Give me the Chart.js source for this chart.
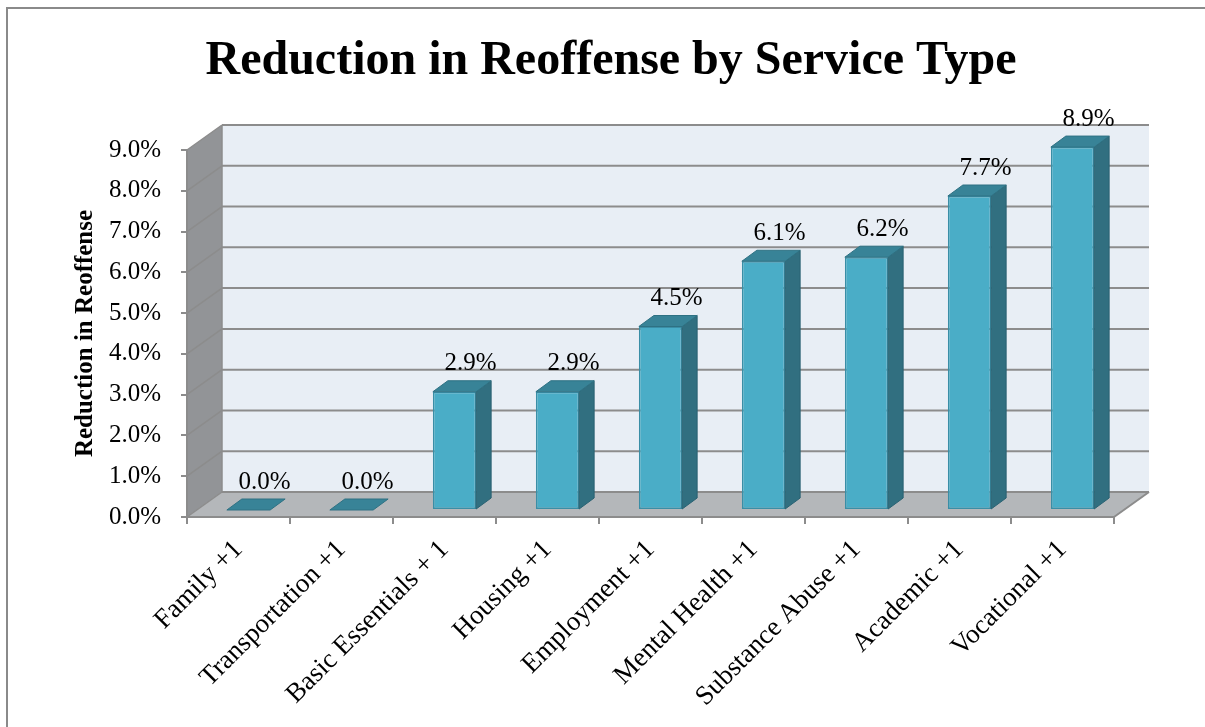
<!DOCTYPE html>
<html>
<head>
<meta charset="utf-8">
<script src="https://cdn.jsdelivr.net/npm/chart.js@4.4.1/dist/chart.umd.min.js"></script>
<style>
  html, body { margin: 0; padding: 0; background: #fff; overflow: hidden; }
  #wrap { position: relative; width: 1205px; height: 727px; }
  #frame { position: absolute; left: 6px; top: 7px; width: 1300px; height: 800px;
           border-left: 2px solid #8a8a8a; border-top: 2px solid #8a8a8a; }
  canvas { position: absolute; left: 0; top: 0; }
</style>
</head>
<body>
<div id="wrap">
  <div id="frame"></div>
  <canvas id="reoffChart" width="1205" height="727"></canvas>
</div>
<script>
// ── DATA ──
const categories = ['Family +1', 'Transportation +1', 'Basic Essentials + 1', 'Housing +1',
    'Employment +1', 'Mental Health +1', 'Substance Abuse +1', 'Academic +1', 'Vocational +1'];
const reductionPct = [0.0, 0.0, 2.9, 2.9, 4.5, 6.1, 6.2, 7.7, 8.9];
const yMax = 9;
const yStep = 1;

// 3D offsets (pixels)
const WALL = { dx: 35, dy: -25 };
const BAR_SHIFT = { dx: 10, dy: -7 };
const BAR_DEPTH = { dx: 15, dy: -11 };

Chart.defaults.font.family = "'Liberation Serif', 'Times New Roman', serif";
Chart.defaults.color = '#000';

function poly(ctx, pts, fill, stroke, lw) {
    ctx.beginPath();
    ctx.moveTo(pts[0][0], pts[0][1]);
    for (let i = 1; i < pts.length; i++) ctx.lineTo(pts[i][0], pts[i][1]);
    ctx.closePath();
    if (fill) { ctx.fillStyle = fill; ctx.fill(); }
    if (stroke) { ctx.strokeStyle = stroke; ctx.lineWidth = lw || 1; ctx.stroke(); }
}

function line(ctx, x1, y1, x2, y2, color, lw) {
    ctx.beginPath();
    ctx.moveTo(x1, y1);
    ctx.lineTo(x2, y2);
    ctx.strokeStyle = color;
    ctx.lineWidth = lw;
    ctx.stroke();
}

const threeD = {
    id: 'threeD',
    beforeDraw(chart) {
        const { ctx, chartArea: a, scales: { y } } = chart;
        const dx = WALL.dx, dy = WALL.dy;
        ctx.save();
        // side wall
        poly(ctx, [[a.left, a.bottom], [a.left, a.top], [a.left + dx, a.top + dy], [a.left + dx, a.bottom + dy]], '#929497');
        // back wall
        poly(ctx, [[a.left + dx, a.top + dy], [a.right + dx, a.top + dy], [a.right + dx, a.bottom + dy], [a.left + dx, a.bottom + dy]], '#e8eef5');
        // floor
        poly(ctx, [[a.left, a.bottom], [a.right, a.bottom], [a.right + dx, a.bottom + dy], [a.left + dx, a.bottom + dy]], '#b4b7ba');
        // gridlines on back + side wall
        y.ticks.forEach(t => {
            const py = y.getPixelForValue(t.value);
            line(ctx, a.left + dx, py + dy, a.right + dx, py + dy, '#8c8c8c', 2);
            line(ctx, a.left, py, a.left + dx, py + dy, '#8c8c8c', 1.5);
        });
        line(ctx, a.left + dx, a.top + dy, a.left + dx, a.bottom + dy, '#8c8c8c', 1.5);
        line(ctx, a.right, a.bottom, a.right + dx, a.bottom + dy, '#8c8c8c', 2);
        ctx.restore();
    },
    beforeDatasetsDraw(chart) {
        chart.ctx.save();
        chart.ctx.translate(BAR_SHIFT.dx, BAR_SHIFT.dy);
    },
    afterDatasetsDraw(chart) {
        const ctx = chart.ctx;
        ctx.restore();
        const bars = chart.getDatasetMeta(0).data;
        ctx.save();
        bars.forEach((bar, i) => {
            const l = bar.x - bar.width / 2 + BAR_SHIFT.dx;
            const r = bar.x + bar.width / 2 + BAR_SHIFT.dx;
            const t = bar.y + BAR_SHIFT.dy;
            const b = bar.base + BAR_SHIFT.dy;
            const ddx = BAR_DEPTH.dx, ddy = BAR_DEPTH.dy;
            if (b - t > 0.5) {
                poly(ctx, [[r, t], [r + ddx, t + ddy], [r + ddx, b + ddy], [r, b]], '#316f80', '#2a6272', 1);
            }
            poly(ctx, [[l, t], [l + ddx, t + ddy], [r + ddx, t + ddy], [r, t]], '#388397', '#2e7183', 1);

            ctx.fillStyle = '#000';
            ctx.font = "25px 'Liberation Serif'";
            ctx.textAlign = 'center';
            ctx.textBaseline = 'middle';
            ctx.fillText(reductionPct[i].toFixed(1) + '%', bar.x + BAR_SHIFT.dx + 16, bar.y - 35);
        });
        ctx.restore();
    }
};

const ctx = document.getElementById('reoffChart').getContext('2d');
new Chart(ctx, {
    type: 'bar',
    data: {
        labels: categories,
        datasets: [{
            label: 'Reduction in Reoffense',
            data: reductionPct,
            backgroundColor: '#4aadc7',
            borderColor: '#3a8ea6',
            borderWidth: 1.5,
            borderSkipped: false,
            categoryPercentage: 1,
            barPercentage: 0.42,
            clip: false,
        }]
    },
    options: {
        responsive: false,
        animation: false,
        devicePixelRatio: 1,
        layout: { padding: { top: 0, left: 17, right: 0, bottom: 0 } },
        plugins: {
            legend: { display: false },
            tooltip: { enabled: false },
            title: {
                display: true,
                text: 'Reduction in Reoffense by Service Type',
                font: { size: 48, weight: 'bold' },
                color: '#000',
                padding: { top: 33, bottom: 59.4 }
            }
        },
        scales: {
            x: {
                afterFit: s => { s.height = 210; },
                grid: { drawOnChartArea: false, offset: true, tickLength: 7, color: '#8c8c8c', lineWidth: 2 },
                border: { display: true, color: '#8c8c8c', width: 2 },
                ticks: { font: { size: 27 }, color: '#000', minRotation: 45, maxRotation: 45, autoSkip: false, padding: 10 }
            },
            y: {
                min: 0,
                max: yMax,
                afterFit: s => { s.width = 170; },
                grid: { drawOnChartArea: false, tickLength: 6, color: '#8c8c8c', lineWidth: 2 },
                border: { display: true, color: '#8c8c8c', width: 2 },
                ticks: { stepSize: yStep, font: { size: 25 }, color: '#000', padding: 20,
                    callback: v => v.toFixed(1) + '%' },
                title: {
                    display: true,
                    text: 'Reduction in Reoffense',
                    font: { size: 25, weight: 'bold' },
                    color: '#000',
                    padding: { top: 54, bottom: 0 }
                }
            },
            // empty right-hand spacer keeping room for the 3D depth
            ySpace: {
                type: 'linear',
                position: 'right',
                afterFit: s => { s.width = 91; },
                grid: { display: false },
                border: { display: false },
                ticks: { display: false }
            }
        }
    },
    plugins: [threeD]
});
</script>
</body>
</html>
